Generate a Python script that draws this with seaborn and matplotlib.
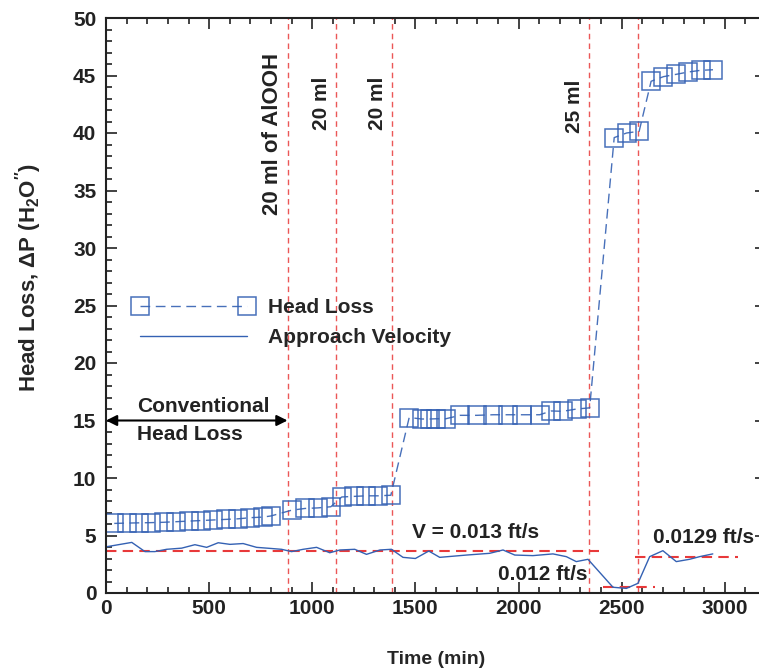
import matplotlib
matplotlib.use("Agg")
import matplotlib.pyplot as plt
import seaborn as sns
from matplotlib.ticker import MultipleLocator

# Head loss (in. H2O) vs time (min)
hl_time = [40, 100, 160, 220, 280, 340, 400, 460, 520, 580, 640, 700, 760, 800,
           900, 964, 1027, 1090,
           1143, 1202, 1260, 1318, 1381,
           1470, 1531, 1570, 1600, 1647, 1717, 1798, 1878, 1948, 2015,
           2103, 2159, 2214, 2282, 2345,
           2464, 2524, 2585, 2643, 2703, 2764, 2822, 2883, 2943]
hl_value = [6.05, 6.08, 6.1, 6.12, 6.15, 6.2, 6.25, 6.3, 6.35, 6.4, 6.45, 6.55, 6.6, 6.7,
            7.2, 7.35, 7.4, 7.5,
            8.35, 8.4, 8.45, 8.45, 8.5,
            15.26, 15.13, 15.13, 15.15, 15.15, 15.45, 15.45, 15.5, 15.5, 15.5,
            15.5, 15.83, 15.8, 16.0, 16.1,
            39.6, 40.0, 40.15, 44.5, 44.9, 45.1, 45.3, 45.45, 45.5]

# Approach velocity, drawn on the same scale
vel_time = [5, 125, 189, 237, 294, 367, 431, 488, 544, 601, 665, 730, 795, 851, 900,
            956, 1021, 1085, 1134, 1206, 1263, 1328, 1384, 1440, 1500, 1565, 1618,
            1748, 1860, 1925, 1982, 2070, 2167, 2232, 2280, 2337, 2458, 2523, 2579,
            2636, 2700, 2765, 2829, 2878, 2942]
vel_value = [4.03, 4.4, 3.6, 3.6, 3.8, 3.9, 4.2, 3.97, 4.37, 4.23, 4.3, 3.97, 3.88, 3.8, 3.6,
             3.8, 3.97, 3.5, 3.74, 3.8, 3.36, 3.74, 3.8, 3.1, 3.0, 3.65, 3.1,
             3.3, 3.45, 3.74, 3.3, 3.25, 3.4, 3.16, 2.73, 2.93, 0.5, 0.4, 0.84,
             3.16, 3.68, 2.73, 2.93, 3.16, 3.4]

# dosing events
event_time = [880, 1115, 1385, 2340, 2578]
event_label = ["20 ml of AlOOH", "20 ml", "20 ml", "25 ml"]
event_label_top = [47.0, 44.9, 44.9, 44.6]

# average velocity levels: (start, end, level)
vel_levels = [(0, 2388, 3.68), (2408, 2660, 0.55), (2563, 3062, 3.16)]
vel_texts = [(1483, 5.3, "V = 0.013 ft/s"), (1899, 1.57, "0.012 ft/s"), (2650, 4.83, "0.0129 ft/s")]

blue = "#3461b3"
red = "#e8393a"

sns.set_style("ticks")
plt.rcParams["font.family"] = ["Liberation Sans", "DejaVu Sans"]
plt.rcParams["font.weight"] = "bold"
plt.rcParams["mathtext.default"] = "regular"

fig = plt.figure(figsize=(7.59, 6.71), dpi=100)
ax = fig.add_axes([106 / 759, 78 / 671, 660 / 759, 575 / 671])

sns.lineplot(x=hl_time, y=hl_value, ax=ax, color=blue, linewidth=1.0,
             dashes=False, linestyle=(0, (7, 4)), marker="s", markersize=13,
             markerfacecolor="none", markeredgecolor=blue, markeredgewidth=1.1,
             alpha=0.9, label="Head Loss")
sns.lineplot(x=vel_time, y=vel_value, ax=ax, color=blue, linewidth=1.0,
             label="Approach Velocity")

for t in event_time:
    ax.axvline(t, color=red, linestyle=(0, (4, 3)), linewidth=1.0, alpha=0.85, zorder=1)

for t, lab, top in zip(event_time, event_label, event_label_top):
    ax.text(t - 22, top, lab, rotation=90, ha="right", va="top",
            fontsize=16 if len(lab) > 6 else 15, fontweight="bold", color="#222222")

for x0, x1, y in vel_levels:
    ax.plot([x0, x1], [y, y], color=red, linestyle=(0, (5, 3)), linewidth=1.5, zorder=1)

for x, y, s in vel_texts:
    ax.text(x, y, s, ha="left", va="center", fontsize=15, fontweight="bold", color="#222222")

ax.annotate("", xy=(0, 15.0), xytext=(880, 15.0),
            arrowprops=dict(arrowstyle="<|-|>", color="black", lw=1.5,
                            mutation_scale=16, shrinkA=0, shrinkB=0))
ax.text(150, 16.26, "Conventional", ha="left", va="center", fontsize=15,
        fontweight="bold", color="#222222")
ax.text(150, 13.74, "Head Loss", ha="left", va="center", fontsize=15,
        fontweight="bold", color="#222222")

ax.set_xlim(0, 3200)
ax.set_ylim(0, 50)
ax.xaxis.set_major_locator(MultipleLocator(500))
ax.xaxis.set_minor_locator(MultipleLocator(100))
ax.yaxis.set_major_locator(MultipleLocator(5))
ax.yaxis.set_minor_locator(MultipleLocator(1))
ax.tick_params(which="both", direction="in", top=True, right=True, width=1.2, colors="#222222")
ax.tick_params(which="major", length=8, labelsize=15)
ax.tick_params(axis="x", which="major", pad=4)
ax.tick_params(axis="y", which="major", pad=7)
ax.tick_params(which="minor", length=4)
for lab in ax.get_xticklabels() + ax.get_yticklabels():
    lab.set_fontweight("bold")
for sp in ax.spines.values():
    sp.set_linewidth(1.5)
    sp.set_color("#222222")

ax.set_xlabel("Time (min)", fontsize=14, fontweight="bold", labelpad=24)
ax.set_ylabel("Head Loss, ΔP (H$_2$O$^{\\prime\\prime}$)", fontsize=16,
              fontweight="bold")
ax.yaxis.set_label_coords(-0.094, 0.548)

ax.legend(loc="upper left", bbox_to_anchor=(0.042, 0.513), frameon=False,
          handlelength=5.75, handletextpad=0.7, numpoints=2,
          borderpad=0, borderaxespad=0, labelspacing=0.55,
          prop={"weight": "bold", "size": 15})

fig.savefig("out.png", dpi=100)
